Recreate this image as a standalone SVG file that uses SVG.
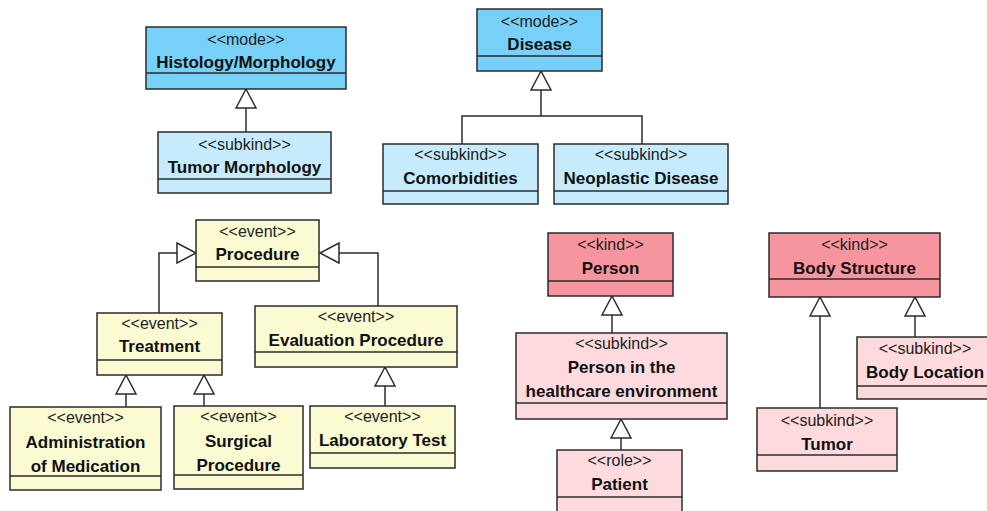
<svg xmlns="http://www.w3.org/2000/svg" width="987" height="511" viewBox="0 0 987 511">
<style>
.box{stroke:#2b2b2b;stroke-width:1.5}
.sep{stroke:#2b2b2b;stroke-width:1.5}
.mode{fill:#76d0f8}
.sub{fill:#c5ebfc}
.event{fill:#fafad3}
.kind{fill:#f7959f}
.pink{fill:#fcdadd}
.st{font-family:"Liberation Sans",Arial,sans-serif;font-size:16px;fill:#222;text-anchor:middle}
.nm{font-family:"Liberation Sans",Arial,sans-serif;font-size:17px;font-weight:bold;fill:#111;text-anchor:middle}
.edge{fill:none;stroke:#2b2b2b;stroke-width:1.5;marker-end:url(#gen)}
.bus{fill:none;stroke:#2b2b2b;stroke-width:1.5}
</style>
<defs>
<marker id="gen" markerUnits="userSpaceOnUse" markerWidth="24" markerHeight="24" viewBox="-1 -1 22 24" refX="19" refY="10" orient="auto">
<path d="M0,0 L19,10 L0,20 Z" fill="#fff" stroke="#2b2b2b" stroke-width="1.5"/>
</marker>
</defs>
<rect width="987" height="511" fill="#fff"/>

<g id="connectors">
<path class="edge" d="M246,132 V89"/>
<path class="edge" d="M462,144 V116 H541 V71"/>
<path class="bus" d="M642,144 V116 H541"/>
<path class="edge" d="M159,313 V253 H196"/>
<path class="edge" d="M378,306 V253 H320"/>
<path class="edge" d="M126,407 V375"/>
<path class="edge" d="M204,406 V375"/>
<path class="edge" d="M385,406 V367"/>
<path class="edge" d="M612,333 V296"/>
<path class="edge" d="M621,450 V419"/>
<path class="edge" d="M820,408 V297"/>
<path class="edge" d="M915,337 V297"/>
</g>

<g id="histology">
<rect class="box mode" x="146" y="27" width="200" height="62"/>
<line class="sep" x1="146" y1="73" x2="346" y2="73"/>
<text class="st" x="246" y="45">&lt;&lt;mode&gt;&gt;</text>
<text class="nm" x="246" y="68">Histology/Morphology</text>
</g>

<g id="tumor-morphology">
<rect class="box sub" x="158" y="132" width="173" height="61"/>
<line class="sep" x1="158" y1="179" x2="331" y2="179"/>
<text class="st" x="244.5" y="150">&lt;&lt;subkind&gt;&gt;</text>
<text class="nm" x="244.5" y="173">Tumor Morphology</text>
</g>

<g id="disease">
<rect class="box mode" x="477" y="9" width="125" height="62"/>
<line class="sep" x1="477" y1="56" x2="602" y2="56"/>
<text class="st" x="539.5" y="27">&lt;&lt;mode&gt;&gt;</text>
<text class="nm" x="539.5" y="50">Disease</text>
</g>

<g id="comorbidities">
<rect class="box sub" x="383" y="144" width="155" height="60"/>
<line class="sep" x1="383" y1="191" x2="538" y2="191"/>
<text class="st" x="460.5" y="160">&lt;&lt;subkind&gt;&gt;</text>
<text class="nm" x="460.5" y="184">Comorbidities</text>
</g>

<g id="neoplastic-disease">
<rect class="box sub" x="554" y="144" width="174" height="60"/>
<line class="sep" x1="554" y1="191" x2="728" y2="191"/>
<text class="st" x="641" y="160">&lt;&lt;subkind&gt;&gt;</text>
<text class="nm" x="641" y="184">Neoplastic Disease</text>
</g>

<g id="procedure">
<rect class="box event" x="196" y="220" width="123" height="61"/>
<line class="sep" x1="196" y1="267" x2="319" y2="267"/>
<text class="st" x="257.5" y="237">&lt;&lt;event&gt;&gt;</text>
<text class="nm" x="257.5" y="260">Procedure</text>
</g>

<g id="treatment">
<rect class="box event" x="97" y="313" width="125" height="62"/>
<line class="sep" x1="97" y1="360" x2="222" y2="360"/>
<text class="st" x="159.5" y="329">&lt;&lt;event&gt;&gt;</text>
<text class="nm" x="159.5" y="352">Treatment</text>
</g>

<g id="evaluation-procedure">
<rect class="box event" x="255" y="306" width="202" height="61"/>
<line class="sep" x1="255" y1="352" x2="457" y2="352"/>
<text class="st" x="356" y="322">&lt;&lt;event&gt;&gt;</text>
<text class="nm" x="356" y="346">Evaluation Procedure</text>
</g>

<g id="administration-of-medication">
<rect class="box event" x="10" y="407" width="151" height="83"/>
<line class="sep" x1="10" y1="476" x2="161" y2="476"/>
<text class="st" x="85.5" y="423">&lt;&lt;event&gt;&gt;</text>
<text class="nm" x="85.5" y="448">Administration</text>
<text class="nm" x="85.5" y="472">of Medication</text>
</g>

<g id="surgical-procedure">
<rect class="box event" x="174" y="406" width="129" height="83"/>
<line class="sep" x1="174" y1="475" x2="303" y2="475"/>
<text class="st" x="238.5" y="422">&lt;&lt;event&gt;&gt;</text>
<text class="nm" x="238.5" y="447">Surgical</text>
<text class="nm" x="238.5" y="471">Procedure</text>
</g>

<g id="laboratory-test">
<rect class="box event" x="310" y="406" width="145" height="62"/>
<line class="sep" x1="310" y1="453" x2="455" y2="453"/>
<text class="st" x="382.5" y="422">&lt;&lt;event&gt;&gt;</text>
<text class="nm" x="382.5" y="446">Laboratory Test</text>
</g>

<g id="person">
<rect class="box kind" x="548" y="233" width="125" height="63"/>
<line class="sep" x1="548" y1="281" x2="673" y2="281"/>
<text class="st" x="610.5" y="250">&lt;&lt;kind&gt;&gt;</text>
<text class="nm" x="610.5" y="274">Person</text>
</g>

<g id="person-healthcare">
<rect class="box pink" x="516" y="333" width="211" height="86"/>
<line class="sep" x1="516" y1="403" x2="727" y2="403"/>
<text class="st" x="621.5" y="349">&lt;&lt;subkind&gt;&gt;</text>
<text class="nm" x="621.5" y="373">Person in the</text>
<text class="nm" x="621.5" y="397">healthcare environment</text>
</g>

<g id="patient">
<rect class="box pink" x="557" y="450" width="125" height="70"/>
<line class="sep" x1="557" y1="497" x2="682" y2="497"/>
<text class="st" x="619.5" y="466">&lt;&lt;role&gt;&gt;</text>
<text class="nm" x="619.5" y="490">Patient</text>
</g>

<g id="body-structure">
<rect class="box kind" x="769" y="233" width="171" height="64"/>
<line class="sep" x1="769" y1="279" x2="940" y2="279"/>
<text class="st" x="854.5" y="250">&lt;&lt;kind&gt;&gt;</text>
<text class="nm" x="854.5" y="274">Body Structure</text>
</g>

<g id="body-location">
<rect class="box pink" x="857" y="337" width="136" height="62"/>
<line class="sep" x1="857" y1="386" x2="993" y2="386"/>
<text class="st" x="925" y="354">&lt;&lt;subkind&gt;&gt;</text>
<text class="nm" x="925" y="378">Body Location</text>
</g>

<g id="tumor">
<rect class="box pink" x="757" y="408" width="140" height="63"/>
<line class="sep" x1="757" y1="455" x2="897" y2="455"/>
<text class="st" x="827" y="426">&lt;&lt;subkind&gt;&gt;</text>
<text class="nm" x="827" y="450">Tumor</text>
</g>
</svg>
